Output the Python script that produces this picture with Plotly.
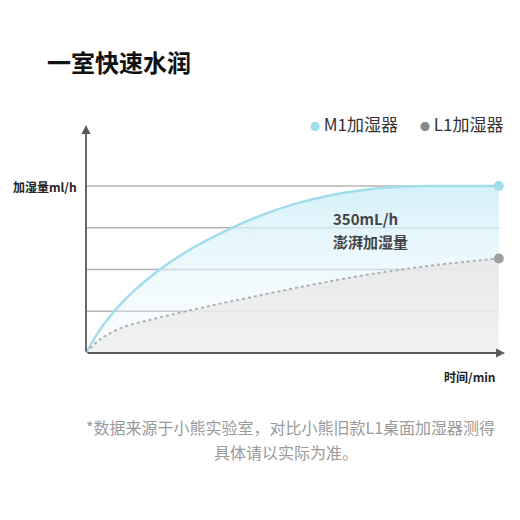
import plotly.graph_objects as go

# time in minutes, humidifying output in ml/h
minutes = [0, 2, 5, 10, 15, 20, 25, 30, 35, 40, 45, 50, 55, 60]
m1_output = [0, 48, 102, 167, 216, 254, 286, 311, 329, 341, 348, 350, 350, 350]
l1_output = [0, 28, 52, 72, 89, 105, 120, 135, 149, 162, 173, 183, 191, 198]
grid_values = [87.5, 175, 262.5, 350]
series_names = ["M1加湿器", "L1加湿器"]

FONT = "Noto Sans CJK SC, Noto Sans, sans-serif"
BLUE = "#a3dcec"
GREY = "#b0b0b0"
AXIS = "#5a5a5a"

x_max = 60.9
y_max = 478

fig = go.Figure()

fig.add_trace(go.Scatter(
    x=minutes, y=m1_output, mode="lines",
    line=dict(color=BLUE, width=2.5, shape="spline", smoothing=1.0),
    fill="tozeroy",
    fillgradient=dict(
        type="vertical",
        colorscale=[[0, "rgba(240,250,253,0.2)"], [1, "rgba(208,239,249,0.9)"]],
    ),
    showlegend=False, hoverinfo="skip",
))
fig.add_trace(go.Scatter(
    x=minutes, y=l1_output, mode="lines",
    line=dict(color=GREY, width=2, dash="dot", shape="spline", smoothing=1.0),
    fill="tozeroy",
    fillgradient=dict(
        type="vertical",
        colorscale=[[0, "rgba(238,238,238,0.8)"], [1, "rgba(231,231,231,0.85)"]],
    ),
    showlegend=False, hoverinfo="skip",
))
fig.add_trace(go.Scatter(
    x=[minutes[-1]], y=[m1_output[-1]], mode="markers",
    marker=dict(color=BLUE, size=10), name=series_names[0], showlegend=False,
))
fig.add_trace(go.Scatter(
    x=[minutes[-1]], y=[l1_output[-1]], mode="markers",
    marker=dict(color="#a0a0a0", size=10), name=series_names[1], showlegend=False,
))

# horizontal guide lines, ending where the data ends
for g in grid_values:
    fig.add_shape(type="line", x0=minutes[0], x1=minutes[-1], y0=g, y1=g,
                  xref="x", yref="y", layer="below",
                  line=dict(color="#b5b5b5", width=1.5))

annos = [
    # axis arrows
    dict(x=x_max, y=0, ax=0, ay=0, xref="x", yref="y", axref="x", ayref="y",
         text="", showarrow=True, arrowhead=2, arrowsize=1, arrowwidth=1.8, arrowcolor=AXIS),
    dict(x=0, y=y_max, ax=0, ay=0, xref="x", yref="y", axref="x", ayref="y",
         text="", showarrow=True, arrowhead=2, arrowsize=1, arrowwidth=1.8, arrowcolor=AXIS),
    dict(x=-0.017, y=350, xref="paper", yref="y", xanchor="right", yanchor="middle",
         text="<b>加湿量ml/h</b>", showarrow=False, font=dict(size=12, color="#222")),
    dict(x=0.983, y=-0.105, xref="paper", yref="paper", xanchor="right", yanchor="middle",
         text="<b>时间/min</b>", showarrow=False, font=dict(size=12, color="#222")),
    dict(x=35.6, y=281, xref="x", yref="y", xanchor="left", yanchor="middle",
         text="<b>350mL/h</b>", showarrow=False, font=dict(size=15, color="#444")),
    dict(x=35.6, y=234, xref="x", yref="y", xanchor="left", yanchor="middle",
         text="<b>澎湃加湿量</b>", showarrow=False, font=dict(size=15, color="#444")),
    dict(x=0.530, y=1.005, xref="paper", yref="paper", xanchor="left", yanchor="middle",
         text=f"<span style='color:{BLUE};font-size:10px'>●</span> {series_names[0]}",
         showarrow=False, font=dict(size=17, color="#333")),
    dict(x=0.792, y=1.005, xref="paper", yref="paper", xanchor="left", yanchor="middle",
         text=f"<span style='color:#888;font-size:10px'>●</span> {series_names[1]}",
         showarrow=False, font=dict(size=17, color="#333")),
    dict(x=0.487, y=-0.325, xref="paper", yref="paper", xanchor="center", yanchor="middle",
         text="*数据来源于小熊实验室，对比小熊旧款L1桌面加湿器测得",
         showarrow=False, font=dict(size=16, color="#9a9a9a")),
    dict(x=0.477, y=-0.434, xref="paper", yref="paper", xanchor="center", yanchor="middle",
         text="具体请以实际为准。",
         showarrow=False, font=dict(size=16, color="#9a9a9a")),
]

fig.update_layout(
    width=520, height=520,
    paper_bgcolor="white", plot_bgcolor="white",
    font=dict(family=FONT),
    title=dict(text="<b>一室快速水润</b>", x=0.075, xanchor="left", y=0.894, yanchor="middle",
               font=dict(size=24, color="#111")),
    margin=dict(l=78, r=23, t=117, b=175),
    xaxis=dict(range=[0, x_max], showgrid=False, zeroline=False, showticklabels=False,
               showline=False, fixedrange=True),
    yaxis=dict(range=[0, y_max], showgrid=False, zeroline=False, showticklabels=False,
               showline=False),
    annotations=annos,
    showlegend=False,
)

fig.write_html("out.html")
